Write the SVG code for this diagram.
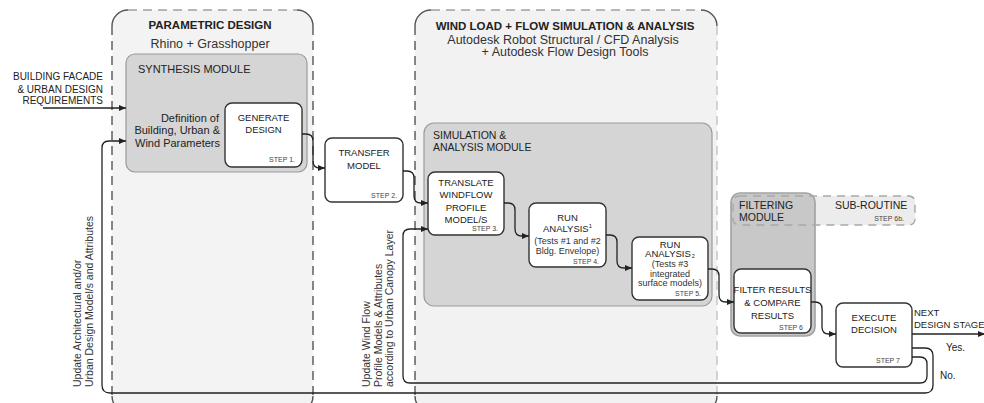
<svg xmlns="http://www.w3.org/2000/svg" width="984" height="403" viewBox="0 0 984 403">
<style>
text{font-family:"Liberation Sans",Arial,sans-serif;fill:#222}
.t{font-size:9.5px;text-anchor:middle}
.s{font-size:9px;text-anchor:middle;fill:#333}
.st{font-size:7px;text-anchor:end;fill:#444}
.mt{font-size:10.5px}
.h{font-size:11.5px;font-weight:bold;text-anchor:middle}
.sub{font-size:12.5px;text-anchor:middle;fill:#333}
.rot{font-size:10.5px;fill:#333}
.box{fill:#fff;stroke:#333;stroke-width:1.4}
.mod{fill:#d5d5d5;stroke:#9a9a9a;stroke-width:1.2}
.dk{fill:none;stroke:#555;stroke-width:1.4;stroke-dasharray:9 6}
.lt{fill:none;stroke:#a0a0a0;stroke-width:1.4;stroke-dasharray:9 6}
.lt2{fill:none;stroke:#c4c4c4;stroke-width:1.4;stroke-dasharray:9 6}
.arc{fill:none;stroke:#555;stroke-width:1.4}
.c{fill:none;stroke:#222;stroke-width:1.3}
</style>
<defs>
<marker id="ah" markerUnits="userSpaceOnUse" markerWidth="8" markerHeight="7" refX="7" refY="3.5" orient="auto">
<path d="M0,0.5 L7,3.5 L0,6.5 z" fill="#222"/>
</marker>
</defs>
<rect width="984" height="403" fill="#fff"/>

<g id="parametric-design">
<rect x="112" y="10" width="201" height="402" rx="16" fill="#f3f3f3"/>
<path class="dk" d="M112,26 V396 M313,26 V396"/>
<path class="lt" d="M128,10 H297"/>
<path class="arc" d="M112,26 A16,16 0 0 1 128,10 M297,10 A16,16 0 0 1 313,26 M112,396 A16,16 0 0 0 128,412 M313,396 A16,16 0 0 1 297,412"/>
<text class="h" x="210" y="29">PARAMETRIC DESIGN</text>
<text class="sub" x="210" y="47.5">Rhino + Grasshopper</text>
</g>

<g id="wind-load">
<rect x="415" y="10" width="302" height="402" rx="16" fill="#f2f2f2"/>
<path class="dk" d="M415,26 V396"/>
<path class="lt" d="M431,10 H701"/>
<path class="lt2" d="M717,26 V396"/>
<path class="arc" d="M415,26 A16,16 0 0 1 431,10 M415,396 A16,16 0 0 0 431,412"/>
<path class="arc" stroke="#888" d="M701,10 A16,16 0 0 1 717,26 M717,396 A16,16 0 0 1 701,412"/>
<text class="h" x="565" y="30">WIND LOAD + FLOW SIMULATION &amp; ANALYSIS</text>
<text class="sub" x="563" y="43.5">Autodesk Robot Structural / CFD Analysis</text>
<text class="sub" x="565" y="56">+ Autodesk Flow Design Tools</text>
</g>

<g id="synthesis-module">
<rect class="mod" x="126" y="54" width="181" height="118" rx="9"/>
<text x="138" y="73" style="font-size:11px">SYNTHESIS MODULE</text>
<text x="219" y="122" style="font-size:11px;text-anchor:end">Definition of</text>
<text x="220" y="134" style="font-size:11px;text-anchor:end">Building, Urban &amp;</text>
<text x="220" y="147" style="font-size:11px;text-anchor:end">Wind Parameters</text>
</g>

<g id="simulation-module">
<rect class="mod" x="424" y="123" width="288" height="183" rx="10" fill="#d3d3d3"/>
<text class="mt" x="433" y="139">SIMULATION &amp;</text>
<text class="mt" x="433" y="151">ANALYSIS MODULE</text>
</g>

<g id="subroutine">
<rect x="733" y="196" width="182" height="29" rx="6" fill="#ececec"/>
</g>
<g id="filtering-module">
<rect x="731" y="193" width="84" height="143" rx="9" fill="#c8c8c8" stroke="#a2a2a2" stroke-width="1.6"/>
<text class="mt" x="739" y="209">FILTERING</text>
<text class="mt" x="739" y="221">MODULE</text>
</g>
<g id="subroutine-label">
<rect x="733" y="196" width="182" height="29" rx="6" fill="none" stroke="#a8a8a8" stroke-width="1.4" stroke-dasharray="8 6"/>
<text class="mt" x="835" y="209">SUB-ROUTINE</text>
<text class="st" x="904" y="221">STEP 6b.</text>
</g>

<g id="input">
<text x="103" y="79.5" style="font-size:10px;text-anchor:end">BUILDING FACADE</text>
<text x="103" y="92.5" style="font-size:10px;text-anchor:end">&amp; URBAN DESIGN</text>
<text x="103" y="103.5" style="font-size:10px;text-anchor:end">REQUIREMENTS</text>
</g>

<g id="step1">
<rect class="box" x="225" y="103" width="77" height="64" rx="7"/>
<text class="t" x="263.5" y="120.5">GENERATE</text>
<text class="t" x="263.5" y="132.5">DESIGN</text>
<text class="st" x="295" y="162">STEP 1.</text>
</g>

<g id="step2">
<rect class="box" x="325" y="138" width="78" height="64" rx="7"/>
<text class="t" x="364" y="155.5">TRANSFER</text>
<text class="t" x="364" y="168.5">MODEL</text>
<text class="st" x="397" y="197.5">STEP 2.</text>
</g>

<g id="step3">
<rect class="box" x="428" y="172" width="76" height="63" rx="7"/>
<text class="t" x="466" y="185.5">TRANSLATE</text>
<text class="t" x="466" y="197.5">WINDFLOW</text>
<text class="t" x="466" y="210.5">PROFILE</text>
<text class="t" x="466" y="222.5">MODEL/S</text>
<text class="st" x="498" y="231">STEP 3.</text>
</g>

<g id="step4">
<rect class="box" x="529" y="203" width="77" height="64" rx="7"/>
<text class="t" x="567.5" y="220.5">RUN</text>
<text class="t" x="567.5" y="231.5">ANALYSIS<tspan style="font-size:6px" dy="-4">1</tspan></text>
<text class="s" x="567.5" y="244">(Tests #1 and #2</text>
<text class="s" x="567.5" y="254">Bldg. Envelope)</text>
<text class="st" x="599" y="263.5">STEP 4.</text>
</g>

<g id="step5">
<rect class="box" x="632" y="237" width="76" height="63" rx="7"/>
<text class="t" x="670" y="247.5">RUN</text>
<text class="t" x="670" y="257">ANALYSIS<tspan style="font-size:5.5px" dx="1" dy="0.5">2</tspan></text>
<text class="s" x="670" y="267">(Tests #3</text>
<text class="s" x="670" y="276.5">integrated</text>
<text class="s" x="670" y="286">surface models)</text>
<text class="st" x="701" y="295.5">STEP 5.</text>
</g>

<g id="step6">
<rect class="box" x="734" y="269" width="77" height="64" rx="7"/>
<text class="t" x="772.5" y="292.5">FILTER RESULTS</text>
<text class="t" x="772.5" y="305.5">&amp; COMPARE</text>
<text class="t" x="772.5" y="318.5">RESULTS</text>
<text class="st" x="803" y="329.5">STEP 6</text>
</g>

<g id="step7">
<rect class="box" x="836" y="303" width="76" height="64" rx="7"/>
<text class="t" x="874" y="320.5">EXECUTE</text>
<text class="t" x="874" y="332.5">DECISION</text>
<text class="st" x="900" y="362.5">STEP 7</text>
</g>

<g id="connectors">
<path class="c" marker-end="url(#ah)" d="M43,108 H126"/>
<path class="c" marker-end="url(#ah)" d="M302,134 H306 Q313,134 313,141 V161 Q313,168 320,168 H325"/>
<path class="c" marker-end="url(#ah)" d="M403,171 H407 Q414,171 414,178 V196 Q414,203 421,203 H428"/>
<path class="c" marker-end="url(#ah)" d="M504,203 H508 Q515,203 515,210 V229 Q515,236 522,236 H529"/>
<path class="c" marker-end="url(#ah)" d="M606,235 H610 Q617,235 617,242 V261 Q617,268 624,268 H632"/>
<path class="c" marker-end="url(#ah)" d="M708,269 H712 Q719,269 719,276 V295 Q719,302 726,302 H734"/>
<path class="c" marker-end="url(#ah)" d="M811,302 H815 Q822,302 822,309 V327 Q822,334 829,334 H836"/>
<path class="c" marker-end="url(#ah)" d="M912,334 H985"/>
<path class="c" marker-end="url(#ah)" d="M912,348 H925 Q933,348 933,356 V385 Q933,393 925,393 H110 Q102,393 102,385 V148 Q102,141 109,141 H126"/>
<path class="c" marker-end="url(#ah)" d="M912,357 H920 Q927,357 927,364 V376 Q927,383 920,383 H410 Q403,383 403,376 V236 Q403,229 410,229 H428"/>
<text x="914" y="315.5" style="font-size:9.5px">NEXT</text>
<text x="914" y="327.5" style="font-size:9.5px">DESIGN STAGE</text>
<text x="946" y="350.5" style="font-size:10px">Yes.</text>
<text x="940" y="378.5" style="font-size:10px">No.</text>
<text class="rot" transform="translate(81,387) rotate(-90)">Update Architectural and/or</text>
<text class="rot" transform="translate(92.5,387) rotate(-90)">Urban Design Model/s and Attributes</text>
<text class="rot" transform="translate(369.5,387) rotate(-90)">Update Wind Flow</text>
<text class="rot" transform="translate(381.5,387) rotate(-90)">Profile Models &amp; Attributes</text>
<text class="rot" transform="translate(392.5,387) rotate(-90)">according to Urban Canopy Layer</text>
</g>
</svg>
